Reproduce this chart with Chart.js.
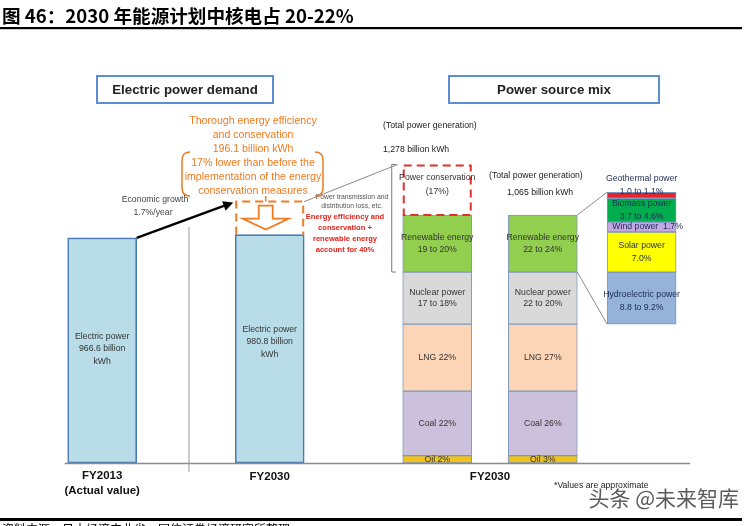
<!DOCTYPE html>
<html><head><meta charset="utf-8">
<script src="https://cdn.jsdelivr.net/npm/chart.js@4.4.1/dist/chart.umd.min.js"></script>
<style>html,body{margin:0;padding:0;background:#fff;overflow:hidden}canvas{display:block}</style>
</head><body>
<canvas id="c" width="748" height="526"></canvas>
<script>
// ---------------- data ----------------
const titleText = '图 46：2030 年能源计划中核电占 20-22%';
const sourceText = '资料来源：日本经济产业省，国信证券经济研究所整理';
const demandCategories = ['FY2013\n(Actual value)', 'FY2030'];
const demandValues = [966.6, 980.8];           // billion kWh
const demandLabels = ['Electric power\n966.6 billion\nkWh', 'Electric power\n980.8 billion\nkWh'];
const mixCategory = 'FY2030';
const totalGeneration = 1278;                  // billion kWh (before conservation)
const netGeneration = 1065;                    // billion kWh
const conservationShare = 17;                  // % of total generation
const mixSources = ['Oil', 'Coal', 'LNG', 'Nuclear power', 'Renewable energy'];
const mixShares = [3, 26, 27, 21, 23];         // % of net generation
const mixLabelsTotal = ['Oil 2%', 'Coal 22%', 'LNG 22%', 'Nuclear power\n17 to 18%', 'Renewable energy\n19 to 20%'];
const mixLabelsNet = ['Oil 3%', 'Coal 26%', 'LNG 27%', 'Nuclear power\n22 to 20%', 'Renewable energy\n22 to 24%'];
const renewSources = ['Hydroelectric power', 'Solar power', 'Wind power', 'Biomass power', 'Geothermal power'];
const renewShares = [9.0, 7.0, 1.7, 4.15, 1.05]; // % of net generation
const renewLabels = ['Hydroelectric power\n8.8 to 9.2%', 'Solar power\n7.0%', 'Wind power  1.7%', 'Biomass power\n3.7 to 4.6%', 'Geothermal power\n1.0 to 1.1%'];
const calloutLines = ['Thorough energy efficiency', 'and conservation', '196.1 billion kWh', '17% lower than before the', 'implementation of the energy', 'conservation measures'];
const redNoteLines = ['Energy efficiency and', 'conservation +', 'renewable energy', 'account for 40%'];

// ---------------- layout / style ----------------
const COL_X = [0, 10, 20, 26.3, 32.2];   // column slots on the x scale
const BREAKDOWN_RANGE = 56.6;            // magnified y range of the renewable breakdown column
const Y_MAX = 1400;
const mixColors = ['#efc21c', '#ccc1dc', '#fcd5b6', '#d9d9d9', '#92cf4e'];
const renewColors = ['#95b3d9', '#ffff00', '#c4a8e2', '#00ad4f', '#e3262b'];
const FONT = '"Liberation Sans", Arial, sans-serif';

// ---------------- datasets ----------------
const datasets = [];
datasets.push({
  label: 'Electric power demand',
  data: demandValues.map((v, i) => ({x: COL_X[i], y: [0, v]})),
  backgroundColor: '#b8dde9', borderColor: '#4a78b5', borderWidth: 1.6,
  segLabels: demandLabels, kind: 'demand'
});
let cum = 0;
mixSources.forEach((s, i) => {
  const v = mixShares[i] * netGeneration / 100;
  datasets.push({
    label: s,
    data: [{x: COL_X[2], y: [cum, cum + v]}, {x: COL_X[3], y: [cum, cum + v]}],
    backgroundColor: mixColors[i], borderColor: '#8197bb', borderWidth: 1,
    segLabels: [mixLabelsTotal[i], mixLabelsNet[i]], kind: 'mix'
  });
  cum += v;
});
const nuclearStart = mixShares.slice(0, 3).reduce((a, b) => a + b, 0) * netGeneration / 100;
datasets.push({
  label: 'Power conservation',
  data: [{x: COL_X[2], y: [netGeneration, netGeneration + totalGeneration * conservationShare / 100]}],
  backgroundColor: 'rgba(0,0,0,0)', borderWidth: 0, kind: 'conservation',
  segLabels: ['Power conservation\n(' + conservationShare + '%)']
});
const RENEW_FIRST = datasets.length;
let rc = 0;
renewSources.forEach((s, i) => {
  datasets.push({
    label: s, yAxisID: 'y2',
    data: [{x: COL_X[4], y: [rc, rc + renewShares[i]]}],
    backgroundColor: renewColors[i], borderColor: '#7d97c2', borderWidth: 1,
    segLabels: [renewLabels[i]], kind: 'renew'
  });
  rc += renewShares[i];
});
const RENEW_LAST = datasets.length - 1;
const y2Min = -(nuclearStart / Y_MAX) * BREAKDOWN_RANGE;

// ---------------- drawing helpers ----------------
function lines(ctx, text, x, yc, lh) {
  const ls = text.split('\n');
  const y0 = yc - (ls.length - 1) * lh / 2;
  ls.forEach((l, i) => ctx.fillText(l, x, y0 + i * lh));
}
function box(el) {
  return {l: el.x - el.width / 2, r: el.x + el.width / 2, t: Math.min(el.y, el.base), b: Math.max(el.y, el.base)};
}

const deco = {
  id: 'deco',
  afterDraw(chart) {
    const ctx = chart.ctx;
    const meta = i => chart.getDatasetMeta(i).data;
    ctx.save();
    ctx.textAlign = 'center';
    ctx.textBaseline = 'middle';

    // title & rules
    ctx.fillStyle = '#000';
    ctx.textAlign = 'left';
    ctx.font = 'bold 18.6px "Noto Sans CJK SC"';
    ctx.fillText(titleText, 2, 16);
    ctx.fillRect(0, 27, 742, 2.2);
    ctx.fillRect(0, 518, 742, 3);
    ctx.font = '12px "Noto Sans CJK SC"';
    ctx.fillText(sourceText, 2, 529);
    ctx.textAlign = 'center';

    // header boxes
    ctx.lineWidth = 2; ctx.strokeStyle = '#5b8fd4';
    ctx.strokeRect(97, 76, 176, 27);
    ctx.strokeRect(449, 76, 210, 27);
    ctx.fillStyle = '#222';
    ctx.font = 'bold 13.3px ' + FONT;
    ctx.fillText('Electric power demand', 185, 90);
    ctx.fillText('Power source mix', 554, 90);

    const d0 = box(meta(0)[0]), d1 = box(meta(0)[1]);
    const ren1 = box(meta(5)[0]), ren2 = box(meta(5)[1]);
    const cons = box(meta(6)[0]);
    const rb = box(meta(RENEW_FIRST)[0]), rTop = box(meta(RENEW_LAST)[0]);

    // baseline
    ctx.strokeStyle = '#8a8a8a'; ctx.lineWidth = 1.5;
    ctx.beginPath(); ctx.moveTo(d0.l - 3, d0.b + 0.5); ctx.lineTo(rb.r + 14, d0.b + 0.5); ctx.stroke();
    // separator
    ctx.strokeStyle = '#9a9a9a'; ctx.lineWidth = 1;
    const sepX = (d0.r + d1.l) / 2 + 3;
    ctx.beginPath(); ctx.moveTo(sepX, 227); ctx.lineTo(sepX, 472); ctx.stroke();

    // demand bar labels
    ctx.fillStyle = '#333';
    ctx.font = '8.7px ' + FONT;
    meta(0).forEach((el, j) => { lines(ctx, demandLabels[j], el.x, j === 0 ? 349 : 342, 12.5); });

    // stack labels
    chart.data.datasets.forEach((ds, di) => {
      if (ds.kind !== 'mix' && ds.kind !== 'renew') return;
      meta(di).forEach((el, j) => {
        const b = box(el);
        let yc = (b.t + b.b) / 2, x = el.x;
        if (ds.kind === 'renew') {
          ctx.fillStyle = '#1d2a55';
          if (ds.label === 'Geothermal power') yc = b.t - 7;
          if (ds.label === 'Wind power') x = el.x + 6;
          if (ds.label === 'Hydroelectric power') yc += 3;
        } else ctx.fillStyle = '#333';
        lines(ctx, ds.segLabels[j], x, yc, ds.kind === 'renew' ? 12.5 : 11.5);
      });
    });

    // conservation dashed box
    ctx.setLineDash([8, 5]); ctx.strokeStyle = '#e0302b'; ctx.lineWidth = 2;
    ctx.strokeRect(cons.l + 1, cons.t + 1, cons.r - cons.l - 2, cons.b - cons.t - 1);
    ctx.setLineDash([]);
    ctx.fillStyle = '#333';
    lines(ctx, 'Power conservation\n(' + conservationShare + '%)', (cons.l + cons.r) / 2, (cons.t + cons.b) / 2 - 5, 14);

    // bracket left of stack
    ctx.strokeStyle = '#777'; ctx.lineWidth = 1;
    ctx.beginPath();
    ctx.moveTo(cons.l - 7, cons.t); ctx.lineTo(cons.l - 11, cons.t);
    ctx.lineTo(cons.l - 11, ren1.b); ctx.lineTo(cons.l - 7, ren1.b);
    ctx.stroke();

    // total generation texts
    ctx.fillStyle = '#222'; ctx.font = '8.7px ' + FONT; ctx.textAlign = 'left';
    ctx.fillText('(Total power generation)', 383, 126);
    ctx.fillText(totalGeneration.toLocaleString('en-US') + ' billion kWh', 383, 150);
    ctx.fillText('(Total power generation)', 489, 176);
    ctx.fillText(netGeneration.toLocaleString('en-US') + ' billion kWh', 507, 193);
    ctx.fillText('*Values are approximate', 554, 486);
    ctx.textAlign = 'center';

    // breakdown connector lines
    ctx.strokeStyle = '#8a8a8a'; ctx.lineWidth = 1;
    ctx.beginPath();
    ctx.moveTo(ren2.r, ren2.t); ctx.lineTo(rb.l, rTop.t);
    ctx.moveTo(ren2.r, ren2.b); ctx.lineTo(rb.l, rb.b);
    ctx.stroke();

    // line demand -> total generation
    const boxTop = d1.t - 33;
    ctx.beginPath(); ctx.moveTo(d1.r, boxTop); ctx.lineTo(cons.l - 5, cons.t); ctx.stroke();
    ctx.fillStyle = '#555'; ctx.font = '6.8px ' + FONT;
    ctx.fillText('Power transmission and', 352, 197);
    ctx.fillText('distribution loss, etc.', 352, 206);

    // orange dashed box + arrow
    const orange = '#ef7b22';
    ctx.strokeStyle = orange; ctx.lineWidth = 2; ctx.setLineDash([8, 5]);
    ctx.beginPath();
    ctx.moveTo(d1.l + 1, d1.t); ctx.lineTo(d1.l + 1, boxTop); ctx.lineTo(d1.r - 1, boxTop); ctx.lineTo(d1.r - 1, d1.t);
    ctx.stroke(); ctx.setLineDash([]);
    const ax = meta(0)[1].x - 4;
    ctx.lineWidth = 1.8; ctx.fillStyle = '#fff';
    ctx.beginPath();
    ctx.moveTo(ax - 7, boxTop + 4); ctx.lineTo(ax + 7, boxTop + 4); ctx.lineTo(ax + 7, boxTop + 17);
    ctx.lineTo(ax + 23, boxTop + 17); ctx.lineTo(ax, boxTop + 28); ctx.lineTo(ax - 23, boxTop + 17);
    ctx.lineTo(ax - 7, boxTop + 17); ctx.closePath(); ctx.fill(); ctx.stroke();
    // callout
    ctx.lineWidth = 1.5;
    ctx.beginPath(); ctx.moveTo(ax, 196); ctx.lineTo(ax, boxTop); ctx.stroke();
    ctx.beginPath();
    ctx.moveTo(190, 152); ctx.quadraticCurveTo(182, 152, 182, 160); ctx.lineTo(182, 188); ctx.quadraticCurveTo(182, 196, 190, 196);
    ctx.moveTo(315, 152); ctx.quadraticCurveTo(323, 152, 323, 160); ctx.lineTo(323, 188); ctx.quadraticCurveTo(323, 196, 315, 196);
    ctx.stroke();
    ctx.fillStyle = orange; ctx.font = '10.6px ' + FONT;
    calloutLines.forEach((l, i) => ctx.fillText(l, 253, 121 + i * 14));

    // red note
    ctx.fillStyle = '#e2231a'; ctx.font = 'bold 7.6px ' + FONT;
    redNoteLines.forEach((l, i) => ctx.fillText(l, 345, 217 + i * 11));

    // economic growth + arrow
    ctx.fillStyle = '#444'; ctx.font = '8.7px ' + FONT;
    ctx.fillText('Economic growth', 155, 200);
    ctx.fillText('1.7%/year', 153, 213);
    const sx = d0.r, sy = d0.t, ex = d1.l - 2, ey = boxTop + 1;
    ctx.strokeStyle = '#000'; ctx.lineWidth = 2.4;
    ctx.beginPath(); ctx.moveTo(sx, sy); ctx.lineTo(ex - 6, ey + 2); ctx.stroke();
    const ang = Math.atan2(ey - sy, ex - sx);
    ctx.fillStyle = '#000';
    ctx.beginPath(); ctx.moveTo(ex, ey);
    ctx.lineTo(ex - 10 * Math.cos(ang) + 5 * Math.sin(ang), ey - 10 * Math.sin(ang) - 5 * Math.cos(ang));
    ctx.lineTo(ex - 10 * Math.cos(ang) - 5 * Math.sin(ang), ey - 10 * Math.sin(ang) + 5 * Math.cos(ang));
    ctx.closePath(); ctx.fill();

    // x labels
    ctx.fillStyle = '#111'; ctx.font = 'bold 11.5px ' + FONT;
    lines(ctx, demandCategories[0], meta(0)[0].x, 483.5, 15);
    ctx.fillText(demandCategories[1], meta(0)[1].x, 477);
    ctx.fillText(mixCategory, (meta(1)[0].x + meta(1)[1].x) / 2, 477);

    // watermark
    ctx.textAlign = 'right'; ctx.fillStyle = '#5c5c5c';
    ctx.font = '21px "Noto Sans CJK SC"';
    ctx.fillText('头条 @未来智库', 739, 498);
    ctx.restore();
  }
};

new Chart(document.getElementById('c'), {
  type: 'bar',
  data: {datasets},
  options: {
    responsive: false, animation: false,
    layout: {padding: {top: 137, bottom: 63, left: 0, right: 0}},
    datasets: {bar: {grouped: false, barThickness: 69, borderSkipped: false}},
    plugins: {legend: {display: false}, tooltip: {enabled: false}},
    scales: {
      x: {type: 'linear', min: -6.1, max: 38.55, offset: false, display: false},
      y: {min: 0, max: Y_MAX, display: false},
      y2: {min: y2Min, max: y2Min + BREAKDOWN_RANGE, display: false}
    }
  },
  plugins: [deco]
});
</script>
</body></html>
